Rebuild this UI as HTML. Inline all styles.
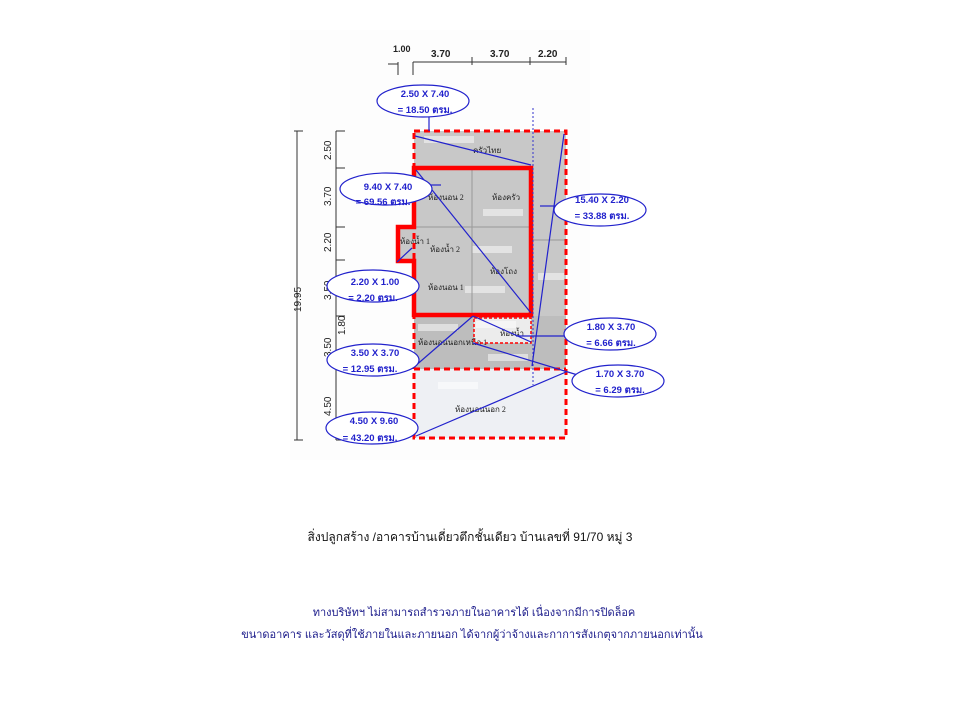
<!DOCTYPE html>
<html><head><meta charset="utf-8"><style>
body{margin:0;width:960px;height:720px;background:#fff;overflow:hidden;font-family:"Liberation Sans",sans-serif}
svg{position:absolute;left:0;top:0}
</style></head><body>
<svg width="960" height="720" viewBox="0 0 960 720" font-family="Liberation Sans, sans-serif">
<rect x="290" y="30" width="300" height="430" fill="#fdfdfd"/>
<rect x="414" y="131" width="152" height="185" fill="#c8c8c8"/>
<rect x="414" y="316" width="152" height="53" fill="#bdbdbd"/>
<rect x="474" y="318" width="57" height="25" fill="#ececec"/>
<rect x="414" y="369" width="152" height="69" fill="#eef0f4"/>
<rect x="398" y="227" width="16" height="33" fill="#c8c8c8"/>
<g fill="#fff" opacity="0.5">
<rect x="424" y="136" width="50" height="7"/><rect x="483" y="209" width="40" height="7"/>
<rect x="472" y="246" width="40" height="7"/><rect x="465" y="286" width="40" height="7"/>
<rect x="418" y="324" width="40" height="7"/><rect x="476" y="321" width="40" height="7"/>
<rect x="488" y="354" width="40" height="7"/><rect x="538" y="273" width="26" height="7"/>
<rect x="438" y="382" width="40" height="7"/>
</g>
<g stroke="#999" stroke-width="1"><line x1="472" y1="168" x2="472" y2="315"/><line x1="414" y1="227" x2="530" y2="227"/><line x1="530" y1="240" x2="566" y2="240"/></g>
<g font-size="8" fill="#222" font-family="Liberation Serif, serif">
<text x="473" y="153">ครัวไทย</text><text x="428" y="200">ห้องนอน 2</text><text x="492" y="200">ห้องครัว</text>
<text x="400" y="244">ห้องน้ำ 1</text><text x="430" y="252">ห้องน้ำ 2</text><text x="490" y="274">ห้องโถง</text>
<text x="428" y="290">ห้องนอน 1</text><text x="418" y="345">ห้องนอนนอกเหนือ 1</text><text x="500" y="336">ห้องน้ำ</text>
<text x="455" y="412">ห้องนอนนอก 2</text>
</g>
<g font-size="10" font-weight="bold" fill="#222">
<text x="393" y="52" font-size="9">1.00</text><text x="431" y="57">3.70</text><text x="490" y="57">3.70</text><text x="538" y="57">2.20</text>
</g>
<g stroke="#333" stroke-width="1" fill="none">
<line x1="413" y1="62" x2="566" y2="62"/><line x1="472" y1="57" x2="472" y2="65"/><line x1="530" y1="57" x2="530" y2="65"/><line x1="566" y1="57" x2="566" y2="65"/>
<line x1="413" y1="62" x2="413" y2="75"/><line x1="398" y1="62" x2="398" y2="75"/><line x1="388" y1="64" x2="398" y2="64"/>
<line x1="297" y1="131" x2="297" y2="440"/><line x1="294" y1="131" x2="303" y2="131"/><line x1="294" y1="440" x2="303" y2="440"/>
<line x1="336" y1="131" x2="336" y2="440"/><line x1="336" y1="131" x2="345" y2="131"/><line x1="336" y1="168" x2="345" y2="168"/>
<line x1="336" y1="227" x2="345" y2="227"/><line x1="336" y1="260" x2="345" y2="260"/><line x1="336" y1="316" x2="345" y2="316"/><line x1="336" y1="368" x2="345" y2="368"/><line x1="336" y1="440" x2="345" y2="440"/>
</g>
<g font-size="10" fill="#222">
<text transform="translate(331,160) rotate(-90)">2.50</text>
<text transform="translate(331,206) rotate(-90)">3.70</text>
<text transform="translate(331,252) rotate(-90)">2.20</text>
<text transform="translate(331,300) rotate(-90)">3.50</text>
<text transform="translate(345,335) rotate(-90)">1.80</text>
<text transform="translate(331,357) rotate(-90)">3.50</text>
<text transform="translate(331,416) rotate(-90)">4.50</text>
<text transform="translate(301,312) rotate(-90)">19.95</text>
</g>
<polygon points="414,168 531,168 531,315 414,315 414,261 398,261 398,227 414,227" fill="none" stroke="#f00" stroke-width="4.5"/>
<g fill="none" stroke="#f00" stroke-width="3" stroke-dasharray="6,4">
<rect x="414" y="131" width="152" height="307"/><line x1="414" y1="369" x2="566" y2="369"/>
</g>
<rect x="474" y="318" width="57" height="25" fill="none" stroke="#f00" stroke-width="1.5" stroke-dasharray="3,2"/>
<line x1="533" y1="108" x2="533" y2="385" stroke="#33c" stroke-width="1" stroke-dasharray="2,2"/>
<g stroke="#2222cc" stroke-width="1.2" fill="none">
<line x1="415" y1="136" x2="531" y2="165"/><line x1="416" y1="170" x2="531" y2="313"/>
<line x1="564" y1="134" x2="532" y2="366"/><line x1="414" y1="367" x2="473" y2="316"/>
<line x1="473" y1="316" x2="531" y2="342"/><line x1="473" y1="343" x2="581" y2="376"/>
<line x1="416" y1="436" x2="566" y2="372"/><line x1="397" y1="262" x2="412" y2="248"/>
<line x1="429" y1="116" x2="429" y2="131"/><line x1="430" y1="185" x2="441" y2="185"/>
<line x1="555" y1="206" x2="540" y2="206"/><line x1="570" y1="336" x2="516" y2="336"/>
<line x1="398" y1="356" x2="413" y2="356"/><line x1="394" y1="428" x2="410" y2="428"/>
</g>
<g fill="#fff" stroke="#2222cc" stroke-width="1.2">
<ellipse cx="423" cy="101" rx="46" ry="16"/><ellipse cx="386" cy="189" rx="46" ry="16"/>
<ellipse cx="373" cy="286" rx="46" ry="16"/><ellipse cx="373" cy="360" rx="46" ry="16"/>
<ellipse cx="372" cy="428" rx="46" ry="16"/><ellipse cx="600" cy="210" rx="46" ry="16"/>
<ellipse cx="610" cy="334" rx="46" ry="16"/><ellipse cx="618" cy="381" rx="46" ry="16"/>
</g>
<g font-size="9.5" font-weight="bold" fill="#2222cc" text-anchor="middle">
<text x="425" y="97">2.50 X 7.40</text><text x="425" y="113">= 18.50 ตรม.</text>
<text x="388" y="190">9.40 X 7.40</text><text x="383" y="205">= 69.56 ตรม.</text>
<text x="375" y="285">2.20 X 1.00</text><text x="373" y="301">= 2.20 ตรม.</text>
<text x="375" y="356">3.50 X 3.70</text><text x="370" y="372">= 12.95 ตรม.</text>
<text x="374" y="424">4.50 X 9.60</text><text x="370" y="441">= 43.20 ตรม.</text>
<text x="602" y="203">15.40 X 2.20</text><text x="602" y="219">= 33.88 ตรม.</text>
<text x="611" y="330">1.80 X 3.70</text><text x="611" y="346">= 6.66 ตรม.</text>
<text x="620" y="377">1.70 X 3.70</text><text x="620" y="393">= 6.29 ตรม.</text>
</g>
<text x="470" y="541" font-size="12" fill="#111" text-anchor="middle">สิ่งปลูกสร้าง /อาคารบ้านเดี่ยวตึกชั้นเดียว บ้านเลขที่ 91/70 หมู่ 3</text>
<text x="474" y="616" font-size="11" fill="#1a1a8a" text-anchor="middle">ทางบริษัทฯ ไม่สามารถสำรวจภายในอาคารได้ เนื่องจากมีการปิดล็อค</text>
<text x="472" y="638" font-size="11" fill="#1a1a8a" text-anchor="middle">ขนาดอาคาร และวัสดุที่ใช้ภายในและภายนอก ได้จากผู้ว่าจ้างและกาการสังเกตุจากภายนอกเท่านั้น</text>
</svg>
</body></html>
